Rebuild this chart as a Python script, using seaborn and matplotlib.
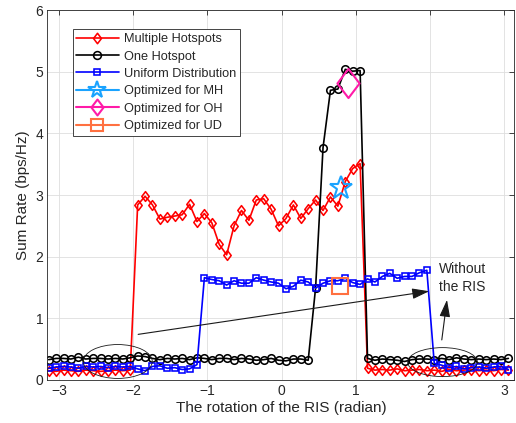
import numpy as np
import matplotlib
matplotlib.use("Agg")
import matplotlib.pyplot as plt
from matplotlib.path import Path
from matplotlib.lines import Line2D
from matplotlib.patches import Ellipse
import seaborn as sns

# RIS rotation angles (radian): -pi, step 0.1
rotation = -np.pi + 0.1 * np.arange(63)

# Sum rate (bps/Hz) for each user distribution
multiple_hotspots = [
    0.15, 0.14, 0.16, 0.15, 0.14, 0.16, 0.15, 0.14, 0.15, 0.16, 0.15, 0.16,
    2.84, 2.98, 2.84, 2.61, 2.64, 2.66, 2.68, 2.85, 2.57, 2.70, 2.55, 2.20,
    2.03, 2.50, 2.75, 2.59, 2.92, 2.94, 2.77, 2.50, 2.62, 2.84, 2.62, 2.78,
    2.92, 2.75, 2.97, 2.82, 3.22, 3.43, 3.51,
    0.19, 0.16, 0.17, 0.16, 0.18, 0.15, 0.16, 0.17, 0.15, 0.16, 0.14, 0.17,
    0.15, 0.16, 0.17, 0.15, 0.16, 0.15, 0.17, 0.16,
]
one_hotspot = [
    0.33, 0.35, 0.35, 0.34, 0.37, 0.34, 0.35, 0.35, 0.34, 0.35, 0.34, 0.36,
    0.39, 0.38, 0.35, 0.33, 0.35, 0.34, 0.35, 0.33, 0.36, 0.35, 0.33, 0.35,
    0.35, 0.33, 0.35, 0.34, 0.32, 0.33, 0.35, 0.32, 0.31, 0.34, 0.34, 0.32,
    1.50, 3.77, 4.70, 4.72, 5.04, 5.01, 5.02,
    0.35, 0.32, 0.34, 0.33, 0.32, 0.30, 0.33, 0.34, 0.34, 0.33, 0.35, 0.33,
    0.36, 0.34, 0.33, 0.34, 0.33, 0.34, 0.33, 0.35,
]
uniform_distribution = [
    0.19, 0.21, 0.22, 0.21, 0.19, 0.22, 0.21, 0.22, 0.20, 0.22, 0.21, 0.22,
    0.18, 0.15, 0.22, 0.23, 0.19, 0.20, 0.17, 0.18, 0.25,
    1.66, 1.63, 1.61, 1.54, 1.61, 1.57, 1.57, 1.66, 1.62, 1.59, 1.57, 1.48,
    1.52, 1.62, 1.59, 1.49, 1.57, 1.61, 1.61, 1.65, 1.58, 1.55, 1.64, 1.59,
    1.68, 1.73, 1.65, 1.68, 1.68, 1.74, 1.78,
    0.27, 0.24, 0.20, 0.22, 0.18, 0.20, 0.21, 0.19, 0.21, 0.22, 0.17,
]

# Optimized RIS rotations and their sum rates
opt_mh_x, opt_mh_y = [0.80], [3.11]
opt_oh_x, opt_oh_y = [0.89], [4.82]
opt_ud_x, opt_ud_y = [0.79], [1.52]

labels = ["Multiple Hotspots", "One Hotspot", "Uniform Distribution",
          "Optimized for MH", "Optimized for OH", "Optimized for UD"]

sns.set_theme(style="whitegrid")
plt.rcParams["font.family"] = ["Liberation Sans", "DejaVu Sans"]
plt.rcParams["xtick.direction"] = "in"
plt.rcParams["ytick.direction"] = "in"

diamond = Path([(0, 1), (0.76, 0), (0, -1), (-0.76, 0), (0, 1)],
               [Path.MOVETO, Path.LINETO, Path.LINETO, Path.LINETO, Path.CLOSEPOLY])

RED, BLACK, BLUE = "#ff0000", "#000000", "#0000ff"
C_MH, C_OH, C_UD = "#1aa3ff", "#ff1aa8", "#ff7040"

fig = plt.figure(figsize=(5.16, 4.23), dpi=100)
ax = fig.add_axes([0.0917, 0.1017, 0.9053, 0.8743])

common = dict(estimator=None, sort=False, legend=False, linewidth=1.2,
              markerfacecolor="none", markeredgewidth=1.15)

sns.lineplot(x=rotation, y=multiple_hotspots, color=RED, marker=diamond,
             markersize=7, markeredgecolor=RED, ax=ax, **common)
sns.lineplot(x=rotation, y=one_hotspot, color=BLACK, marker="o",
             markersize=5.4, markeredgecolor=BLACK, ax=ax, **common)
sns.lineplot(x=rotation, y=uniform_distribution, color=BLUE, marker="s",
             markersize=4.5, markeredgecolor=BLUE, ax=ax, **common)

big = dict(estimator=None, sort=False, legend=False, linewidth=1.5,
           markerfacecolor="none", markeredgewidth=1.5)
sns.lineplot(x=opt_mh_x, y=opt_mh_y, color=C_MH, marker="*", markersize=17,
             markeredgecolor=C_MH, ax=ax, **big)
sns.lineplot(x=opt_oh_x, y=opt_oh_y, color=C_OH, marker=diamond, markersize=21,
             markeredgecolor=C_OH, ax=ax, **big)
sns.lineplot(x=opt_ud_x, y=opt_ud_y, color=C_UD, marker="s", markersize=12,
             markeredgecolor=C_UD, ax=ax, **big)

# Region markers and pointers for the no-RIS baseline
ax.add_patch(Ellipse((-2.21, 0.30), 0.93, 0.55, fill=False, ec="k", lw=0.6, zorder=5))
ax.add_patch(Ellipse((2.17, 0.29), 0.94, 0.47, fill=False, ec="k", lw=0.6, zorder=5))
arrow = dict(arrowstyle="-|>,head_length=0.8,head_width=0.25", color="k",
             lw=0.8, mutation_scale=13, shrinkA=0, shrinkB=0)
ax.annotate("", xy=(1.99, 1.44), xytext=(-1.935, 0.74), arrowprops=arrow, zorder=6)
ax.annotate("", xy=(2.23, 1.30), xytext=(2.16, 0.65), arrowprops=arrow, zorder=6)
ax.text(2.12, 1.66, "Without\nthe RIS", fontsize=10, ha="left", va="center",
        linespacing=1.35, color="#262626")

ax.set_xlim(-3.16, 3.14)
ax.set_ylim(0, 6)
ax.set_xticks(range(-3, 4))
ax.set_yticks(range(0, 7))
ax.tick_params(axis="both", labelsize=10, colors="#262626", length=3.5, width=0.6,
               top=True, right=True, pad=3)
ax.grid(True, color="#dedede", linewidth=0.6)
for s in ax.spines.values():
    s.set_color("#262626")
    s.set_linewidth(0.6)
ax.set_xlabel("The rotation of the RIS (radian)", fontsize=11, color="#262626", labelpad=2)
ax.set_ylabel("Sum Rate (bps/Hz)", fontsize=11, color="#262626", labelpad=4)

handles = [
    Line2D([], [], color=RED, lw=1.2, marker=diamond, ms=7.5, mfc="none", mec=RED, mew=1.15),
    Line2D([], [], color=BLACK, lw=1.2, marker="o", ms=5.6, mfc="none", mec=BLACK, mew=1.15),
    Line2D([], [], color=BLUE, lw=1.2, marker="s", ms=4.6, mfc="none", mec=BLUE, mew=1.15),
    Line2D([], [], color=C_MH, lw=1.5, marker="*", ms=13, mfc="none", mec=C_MH, mew=1.5),
    Line2D([], [], color=C_OH, lw=1.5, marker=diamond, ms=11.5, mfc="none", mec=C_OH, mew=1.5),
    Line2D([], [], color=C_UD, lw=1.5, marker="s", ms=9, mfc="none", mec=C_UD, mew=1.5),
]
leg = ax.legend(handles, labels, loc="upper left", bbox_to_anchor=(0.054, 0.948),
                borderaxespad=0, fontsize=9.2, handlelength=3.3, handletextpad=0.4,
                labelspacing=0.42, borderpad=0.3, fancybox=False, framealpha=1,
                edgecolor="#262626")
leg.get_frame().set_linewidth(0.6)
for t in leg.get_texts():
    t.set_color("#262626")

fig.savefig("out.png", dpi=100)
